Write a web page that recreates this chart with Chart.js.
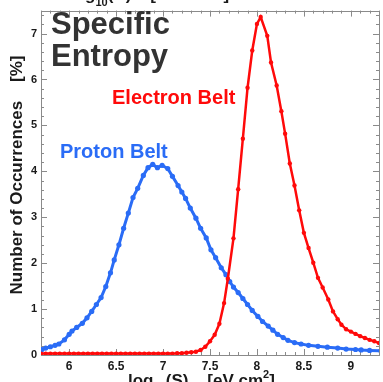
<!DOCTYPE html>
<html>
<head>
<meta charset="utf-8">
<script src="https://cdn.jsdelivr.net/npm/chart.js@4/dist/chart.umd.min.js"></script>
<style>
  html, body { margin: 0; padding: 0; background: #fff; }
  #wrap { width: 383px; height: 382px; position: relative; }
</style>
</head>
<body>
<div id="wrap"><canvas id="entropyChart"></canvas></div>
<script>
// log10(S) bin centres and occurrence percentages
var electronS = [5.70, 5.75, 5.80, 5.85, 5.90, 5.95, 6.00, 6.05, 6.10, 6.15, 6.20, 6.25, 6.30, 6.35, 6.40, 6.45,
  6.50, 6.55, 6.60, 6.65, 6.70, 6.75, 6.80, 6.85, 6.90, 6.95, 7.00, 7.05, 7.10, 7.15, 7.20, 7.25, 7.30, 7.35,
  7.40, 7.45, 7.50, 7.55, 7.60, 7.65, 7.69, 7.75, 7.80, 7.85, 7.90, 7.95, 8.00, 8.04, 8.11, 8.15, 8.21, 8.26,
  8.30, 8.35, 8.40, 8.45, 8.50, 8.55, 8.60, 8.65, 8.70, 8.76, 8.81, 8.86, 8.90, 8.95, 9.00, 9.05, 9.10, 9.15,
  9.20, 9.25, 9.30];
var electronPct = [0.03, 0.03, 0.03, 0.03, 0.03, 0.03, 0.03, 0.03, 0.03, 0.03, 0.03, 0.03, 0.03, 0.03, 0.03, 0.03,
  0.03, 0.03, 0.03, 0.03, 0.03, 0.03, 0.03, 0.03, 0.03, 0.03, 0.03, 0.03, 0.03, 0.04, 0.04, 0.05, 0.06, 0.07,
  0.11, 0.18, 0.30, 0.44, 0.68, 1.13, 1.66, 2.54, 3.61, 4.71, 5.82, 6.63, 7.21, 7.36, 6.95, 6.37, 5.87, 5.31,
  4.82, 4.17, 3.69, 3.15, 2.66, 2.33, 2.01, 1.68, 1.47, 1.21, 0.95, 0.78, 0.66, 0.56, 0.51, 0.46, 0.41, 0.37,
  0.33, 0.30, 0.26];

var protonS = [5.71, 5.75, 5.80, 5.85, 5.89, 5.95, 6.00, 6.03, 6.08, 6.14, 6.19, 6.24, 6.29, 6.34, 6.39, 6.44,
  6.48, 6.53, 6.58, 6.63, 6.68, 6.73, 6.79, 6.84, 6.89, 6.94, 6.99, 7.05, 7.10, 7.16, 7.20, 7.24, 7.29, 7.35,
  7.40, 7.46, 7.51, 7.56, 7.62, 7.67, 7.71, 7.75, 7.80, 7.85, 7.90, 7.95, 8.01, 8.06, 8.12, 8.17, 8.22, 8.28,
  8.33, 8.40, 8.47, 8.55, 8.65, 8.75, 8.86, 8.95, 9.05, 9.11, 9.20, 9.32];
var protonPct = [0.12, 0.15, 0.18, 0.21, 0.24, 0.33, 0.45, 0.52, 0.60, 0.69, 0.81, 0.95, 1.10, 1.25, 1.49, 1.79,
  2.07, 2.40, 2.76, 3.09, 3.43, 3.63, 3.91, 4.08, 4.15, 4.08, 4.13, 4.06, 3.89, 3.69, 3.55, 3.41, 3.20, 2.98,
  2.76, 2.55, 2.29, 2.12, 1.90, 1.75, 1.60, 1.48, 1.36, 1.23, 1.10, 0.97, 0.84, 0.73, 0.63, 0.54, 0.45, 0.38,
  0.32, 0.27, 0.24, 0.21, 0.19, 0.17, 0.15, 0.13, 0.12, 0.11, 0.10, 0.09];

var xTickValues = [6, 6.5, 7, 7.5, 8, 8.5, 9];
var yTickValues = [0, 1, 2, 3, 4, 5, 6, 7];

var RED = '#ff0a0a';
var BLUE = '#2a6cf6';
var FONT = '"Liberation Sans", Arial, Helvetica, sans-serif';

function toPoints(xs, ys) {
  return xs.map(function (x, i) { return { x: x, y: ys[i] }; });
}

// draws "log10(...) [...]" style label with a subscript and optional superscript
function drawSubLabel(ctx, x, y, parts) {
  parts.forEach(function (p) {
    ctx.font = 'bold ' + p.size + 'px ' + FONT;
    ctx.fillText(p.text, x, y + (p.dy || 0));
    x += ctx.measureText(p.text).width + (p.gap || 0);
  });
}

// frame, inward ticks and the text labels
var decorations = {
  id: 'decorations',
  beforeDatasetsDraw: function (chart) {
    var ctx = chart.ctx, a = chart.chartArea;
    var xs = chart.scales.x, ys = chart.scales.y;
    ctx.save();
    ctx.strokeStyle = '#8a8a8a';
    ctx.lineWidth = 1;
    ctx.beginPath();
    var v, p, len;
    for (v = 5.7; v <= 9.3001; v += 0.1) {
      var r = Math.round(v * 10) / 10;
      p = Math.round(xs.getPixelForValue(r)) + 0.5;
      len = (Math.abs(r * 2 - Math.round(r * 2)) < 1e-6) ? 6 : 3;
      ctx.moveTo(p, a.bottom); ctx.lineTo(p, a.bottom - len);
      ctx.moveTo(p, a.top); ctx.lineTo(p, a.top + len);
    }
    for (v = 0; v <= 7.5001; v += 0.2) {
      var q = Math.round(v * 10) / 10;
      p = Math.round(ys.getPixelForValue(q)) + 0.5;
      len = (Math.abs(q - Math.round(q)) < 1e-6) ? 6 : 3;
      ctx.moveTo(a.left, p); ctx.lineTo(a.left + len, p);
      ctx.moveTo(a.right, p); ctx.lineTo(a.right - len, p);
    }
    ctx.stroke();
    ctx.strokeRect(Math.round(a.left) + 0.5, Math.round(a.top) + 0.5,
      Math.round(a.right - a.left), Math.round(a.bottom - a.top));
    ctx.restore();
  },
  afterDraw: function (chart) {
    var ctx = chart.ctx;
    ctx.save();
    ctx.textBaseline = 'alphabetic';
    ctx.textAlign = 'left';

    ctx.fillStyle = '#333333';
    ctx.font = 'bold 31px ' + FONT;
    ctx.fillText('Specific', 51, 34);
    ctx.fillText('Entropy', 51, 66);

    ctx.fillStyle = RED;
    ctx.font = 'bold 20px ' + FONT;
    ctx.fillText('Electron Belt', 112, 104);

    ctx.fillStyle = BLUE;
    ctx.fillText('Proton Belt', 60, 158);

    // y axis title
    ctx.fillStyle = '#1a1a1a';
    ctx.translate(22, 175);
    ctx.rotate(-Math.PI / 2);
    ctx.textAlign = 'center';
    ctx.font = 'bold 17px ' + FONT;
    ctx.fillText('Number of Occurrences    [%]', 0, 0);
    ctx.setTransform(1, 0, 0, 1, 0, 0);

    // x axis title (runs off the bottom edge)
    ctx.textAlign = 'left';
    drawSubLabel(ctx, 128, 386, [
      { text: 'log', size: 17 },
      { text: '10', size: 11, dy: 4 },
      { text: '(S)    [eV cm', size: 17 },
      { text: '2', size: 11, dy: -8 },
      { text: ']', size: 17 }
    ]);

    // axis title of the panel above, cut off at the top edge
    drawSubLabel(ctx, 70, 0, [
      { text: 'log', size: 17 },
      { text: '10', size: 11, dy: 6 },
      { text: '(K)    [keV nT', size: 17 },
      { text: '-1', size: 11, dy: -8, gap: 2 },
      { text: ']', size: 17 }
    ]);
    ctx.restore();
  }
};

var chart = new Chart(document.getElementById('entropyChart'), {
  type: 'scatter',
  data: {
    datasets: [
      {
        label: 'Electron Belt',
        data: toPoints(electronS, electronPct),
        showLine: true,
        borderColor: RED,
        backgroundColor: RED,
        borderWidth: 2.5,
        pointRadius: 2.2,
        pointBorderWidth: 0
      },
      {
        label: 'Proton Belt',
        data: toPoints(protonS, protonPct),
        showLine: true,
        borderColor: BLUE,
        backgroundColor: BLUE,
        borderWidth: 3,
        pointRadius: 2.6,
        pointBorderWidth: 0
      }
    ]
  },
  options: {
    responsive: true,
    maintainAspectRatio: false,
    animation: false,
    layout: { padding: { left: 0, top: 9, right: 3, bottom: 0 } },
    plugins: { legend: { display: false }, tooltip: { enabled: false } },
    scales: {
      x: {
        type: 'linear',
        min: 5.7,
        max: 9.3,
        grid: { display: false, drawTicks: false },
        border: { display: false },
        afterBuildTicks: function (scale) {
          scale.ticks = xTickValues.map(function (v) { return { value: v }; });
        },
        afterFit: function (scale) { scale.height = 27; },
        ticks: {
          padding: 4,
          maxRotation: 0,
          color: '#1a1a1a',
          font: { family: FONT, size: 12, weight: 'bold' },
          callback: function (value) { return String(value); }
        }
      },
      y: {
        type: 'linear',
        min: 0,
        max: 7.5,
        grid: { display: false, drawTicks: false },
        border: { display: false },
        afterBuildTicks: function (scale) {
          scale.ticks = yTickValues.map(function (v) { return { value: v }; });
        },
        afterFit: function (scale) { scale.width = 41; },
        ticks: {
          padding: 4,
          color: '#1a1a1a',
          font: { family: FONT, size: 11, weight: 'bold' },
          callback: function (value) { return String(value); }
        }
      }
    }
  },
  plugins: [decorations]
});
</script>
</body>
</html>
